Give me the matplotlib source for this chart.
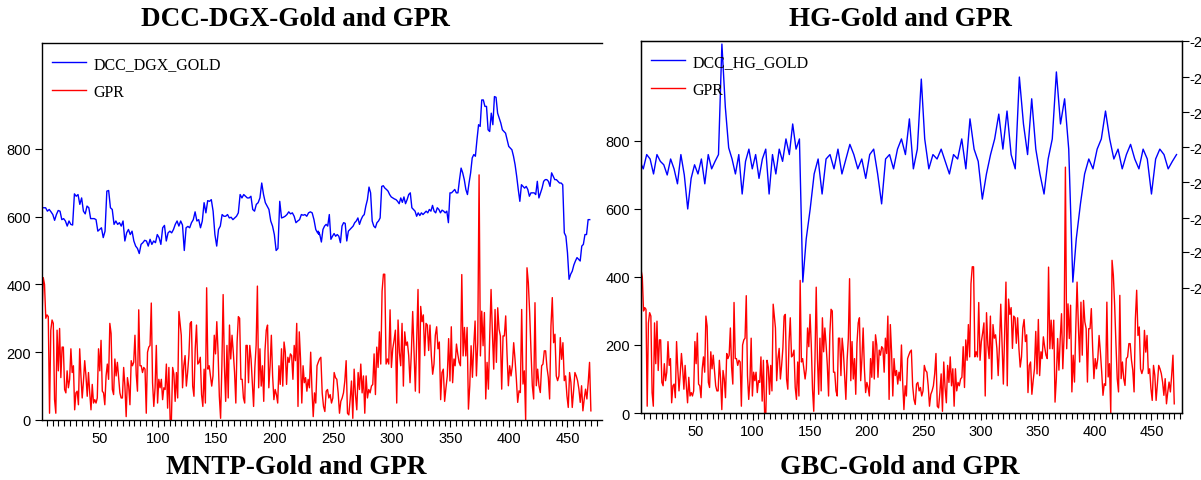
import numpy as np
import matplotlib.pyplot as plt
from matplotlib.ticker import MultipleLocator

GPR_1 = [305, 420, 400, 300, 310, 305, 20, 265, 295, 285, 60, 20, 265, 145, 270, 125, 215, 215, 90, 80,
         145, 95, 120, 210, 140, 160, 30, 80, 85, 45, 210, 130, 65, 115, 175, 130, 70, 140, 80, 30,
         105, 50, 60, 50, 65, 210, 145, 235, 85, 80, 45, 130, 165, 120, 285, 255, 90, 75, 180, 130,
         170, 125, 80, 65, 65, 155, 100, 10, 125, 100, 45, 175, 160, 170, 250, 135, 85, 325, 160, 160,
         140, 155, 150, 20, 200, 215, 220, 345, 110, 40, 95, 220, 50, 120, 95, 120, 60, 95, 90, 165,
         35, 155, 0, 0, 155, 135, 55, 140, 65, 320]
GPR_2 = [250, 95, 160, 190, 100, 140, 190, 285, 290, 100, 70, 210, 280, 165, 170, 185, 75, 40, 150, 50,
         390, 150, 160, 130, 100, 130, 250, 195, 290, 200, 70, 5, 160, 370, 160, 55, 220, 65, 280, 180,
         250, 200, 140, 50, 230, 305, 300, 120, 120, 65, 50, 220, 220, 110, 220, 180, 110, 40, 155, 220,
         395, 95, 210, 100, 160, 55, 205, 265, 280, 95, 160, 250, 130, 60, 90, 75, 50, 160, 105, 210,
         100, 230, 200, 105, 185, 170, 195, 190, 120, 220, 175, 285, 40, 260, 180, 50, 160, 110, 125, 85,
         120, 95, 200, 90, 10, 80, 50, 160]
GPR_3 = [170, 180, 185, 80, 40, 25, 85, 90, 65, 75, 50, 65, 140, 125, 120, 80, 20, 55, 65, 80,
         115, 175, 20, 15, 60, 115, 5, 150, 75, 30, 140, 90, 165, 80, 130, 20, 130, 65, 90, 80,
         100, 105, 195, 75, 215, 155, 260, 165, 380, 430, 430, 165, 180, 165, 325, 155, 210, 235, 265, 50,
         295, 200, 160, 285, 100, 260, 220, 230, 190, 110, 200, 320, 205, 85, 230, 385, 80, 335, 290, 310,
         190, 285, 280, 205, 280, 190, 135, 165, 250, 275, 210, 230, 60, 140, 150, 55, 95, 130, 240, 115,
         275, 110, 180]
GPR_4 = [160, 224, 194, 170, 160, 429, 189, 273, 189, 273, 32, 101, 219, 126, 219, 292, 130, 228, 723, 189,
         321, 219, 317, 62, 170, 91, 248, 385, 258, 150, 326, 170, 331, 268, 248, 91, 248, 248, 307, 194,
         101, 160, 130, 160, 228, 179, 121, 52, 86, 81, 326, 106, 145, 0, 449, 405, 317, 204, 101, 62,
         346, 101, 150, 101, 81, 160, 165, 204, 204, 155, 126, 62, 277, 361, 228, 253, 130, 116, 130, 243,
         179, 228, 116, 130, 72, 37, 140, 111, 37, 86, 140, 130, 116, 91, 52, 101, 27, 62, 91, 62,
         111, 170, 27]
GPR_SPANS = [(1, 118), (120, 236), (237, 353), (354, 470)]

# DCC DGX-Gold (drawn in the left-axis scale, as on the chart)
DGX_1 = [626, 626, 626, 616, 621, 614, 606, 589, 606, 618, 616, 591, 594, 587, 572, 587, 577, 575, 667, 660,
         665, 636, 655, 616, 608, 631, 626, 594, 594, 594, 591, 557, 562, 567, 538, 557, 675, 677, 626, 621,
         577, 587, 577, 582, 572, 587, 528, 552, 562, 547, 557, 528, 513, 506, 491, 518, 523, 530, 528, 513,
         533, 518, 528, 523, 547, 538, 518, 567, 574, 528, 552, 557, 552, 562, 577, 587, 572, 587, 575, 500,
         567, 571, 567, 582, 591, 614, 587, 591, 567, 587, 641, 611, 647, 645, 650, 616, 547, 513, 562, 572,
         606, 601, 601, 606, 596, 598, 591, 596, 601, 611, 665, 655, 665, 660, 655, 655, 660, 621, 616, 636,
         641, 655, 699, 665, 641, 631, 621, 587, 572, 547, 500, 506, 645, 596, 598, 601, 606, 614, 608, 611,
         601, 582, 587, 591, 606, 604, 606, 601, 611, 614, 611, 591, 562, 552, 547]
DGX_2 = [557, 547, 525, 562, 572, 577, 572, 606, 533, 542, 550, 542, 547, 542, 523, 572, 582, 580, 528, 557,
         562, 567, 572, 582, 587, 596, 577, 591, 601, 606, 631, 650, 687, 670, 587, 572, 567, 582, 587, 596,
         689, 691, 684, 680, 675, 665, 658, 655, 652, 650, 645, 638, 655, 642, 658, 638, 650, 665, 670, 626,
         621, 616, 601, 611, 603, 611, 606, 611, 616, 611, 621, 616, 633, 616, 611, 626, 621, 611, 619, 616,
         611, 616, 582, 670, 670, 675, 680, 670, 670, 709, 743, 729, 709, 680, 665, 699, 729, 773, 783, 778,
         827, 871, 866, 944, 944, 925, 925, 856, 851, 905, 871, 954, 952, 905, 890, 876, 856, 851, 846, 827,
         807, 802, 797, 778, 753, 719, 680, 645, 694, 689, 684, 689, 680, 660, 670, 670, 670, 665, 704, 655,
         670, 684, 704, 709, 709, 704, 689, 729, 719, 709, 709, 704, 699, 699, 694, 552, 542, 493, 415, 430,
         439, 457, 469, 479, 474, 469, 513, 518, 547, 547, 591, 591]
DGX_SPANS = [(1, 238), (237, 469)]

# DCC HG-Gold (left-axis scale), five stretches
HG_1 = [740, 718, 760, 747, 703, 760, 740, 730, 700, 747, 718, 674, 760, 700, 600, 690, 730, 703,
        747, 674, 760, 718, 740, 760, 1085]
HG_2 = [900, 780, 747, 703, 760, 644, 740, 776, 718, 760, 690, 747, 776, 644, 760, 703, 776, 740,
        806, 760, 850, 776, 806, 385]
HG_3 = [512, 600, 703, 747, 644, 747, 760, 718, 776, 703, 747, 790, 760, 718, 747, 690, 760, 776,
        703, 615, 747, 760, 718, 776, 806, 760, 865, 718, 776, 982]
HG_4 = [806, 718, 760, 747, 776, 740, 703, 760, 747, 806, 718, 865, 776, 740, 629, 703, 760, 806,
        879, 776, 888, 760, 718, 988, 850, 760, 924, 776, 703, 644, 747, 806, 1003, 850, 924, 776, 385]
HG_5 = [512, 615, 703, 747, 718, 776, 806, 888, 806, 747, 776, 718, 760, 790, 747, 718, 776, 747,
        644, 747, 776, 760, 718, 740, 760]
HG_SPANS = [(1, 73), (76, 144), (147, 248), (251, 381), (384, 472)]

LEFT_YTICKS = [0, 200, 400, 600, 800]
RIGHT_YTICKS = [368, 474, 573, 679, 782, 885, 988, 1094]
RIGHT_YLABELS = ['-2'] * len(RIGHT_YTICKS)

TITLES_TOP = ['DCC-DGX-Gold and GPR', 'HG-Gold and GPR']
TITLES_BOTTOM = ['MNTP-Gold and GPR', 'GBC-Gold and GPR']


def stitch(segs, spans):
    xs, ys = [], []
    for seg, (a, b) in zip(segs, spans):
        xs.append(np.linspace(a, b, len(seg)))
        ys.append(np.asarray(seg, dtype=float))
    return np.concatenate(xs), np.concatenate(ys)


gx, gpr = stitch([GPR_1, GPR_2, GPR_3, GPR_4], GPR_SPANS)
dx, dgx = stitch([DGX_1, DGX_2], DGX_SPANS)
hx, hg = stitch([HG_1, HG_2, HG_3, HG_4, HG_5], HG_SPANS)

W, H = 1201, 481
fig = plt.figure(figsize=(W / 100, H / 100), dpi=100)

serif = 'Liberation Serif'
sans = 'Liberation Sans'


def style_axes(ax, ylim, xlim):
    ax.set_xlim(*xlim)
    ax.set_ylim(*ylim)
    ax.xaxis.set_major_locator(MultipleLocator(50))
    ax.xaxis.set_minor_locator(MultipleLocator(5))
    ax.set_yticks(LEFT_YTICKS)
    ax.tick_params(axis='both', which='major', direction='out', length=5, width=0.8,
                   labelsize=10.5, pad=3)
    ax.tick_params(axis='x', which='minor', direction='out', length=4, width=0.8)
    for lab in ax.get_xticklabels() + ax.get_yticklabels():
        lab.set_family(sans)
    for sp in ax.spines.values():
        sp.set_linewidth(1.0)


def add_legend(ax, handles, w_px, h_px):
    ax.legend(handles=handles, loc='upper left', frameon=False,
              bbox_to_anchor=(3.6 / w_px, 1 - 6.6 / h_px), borderaxespad=0, borderpad=0.4,
              prop={'family': serif, 'size': 11.5},
              handlelength=2.1, handletextpad=0.5, labelspacing=0.75)


# left panel
ax1 = fig.add_axes([42 / W, 1 - 421 / H, 560 / W, 377 / H])
l1, = ax1.plot(dx, dgx, color='#0000ff', lw=1.0, label='DCC_DGX_GOLD')
l2, = ax1.plot(gx, gpr, color='#ff0000', lw=1.0, label='GPR')
style_axes(ax1, (0, 1112), (1, 479.5))
ax1.spines['right'].set_visible(False)
add_legend(ax1, [l1, l2], 560, 377)

# right panel
ax2 = fig.add_axes([641 / W, 1 - 414 / H, 541 / W, 372 / H])
r1, = ax2.plot(hx, hg, color='#0000ff', lw=1.0, label='DCC_HG_GOLD')
r2, = ax2.plot(gx, gpr, color='#ff0000', lw=1.0, label='GPR')
style_axes(ax2, (0, 1094), (2, 476.8))
add_legend(ax2, [r1, r2], 541, 372)
ax2r = ax2.twinx()
ax2r.set_ylim(0, 1094)
ax2r.set_yticks(RIGHT_YTICKS)
ax2r.set_yticklabels(RIGHT_YLABELS, family=sans)
ax2r.tick_params(direction='out', length=5, width=0.8, labelsize=10.5, pad=0.5)

for xc, t in zip([295, 900], TITLES_TOP):
    fig.text(xc / W, 1 - 19 / H, t, ha='center', va='center', family=serif,
             fontweight='bold', fontsize=19.5)
for xc, t in zip([296, 900], TITLES_BOTTOM):
    fig.text(xc / W, 1 - 468 / H, t, ha='center', va='center', family=serif,
             fontweight='bold', fontsize=19.5)

fig.savefig('out.png', dpi=100)
